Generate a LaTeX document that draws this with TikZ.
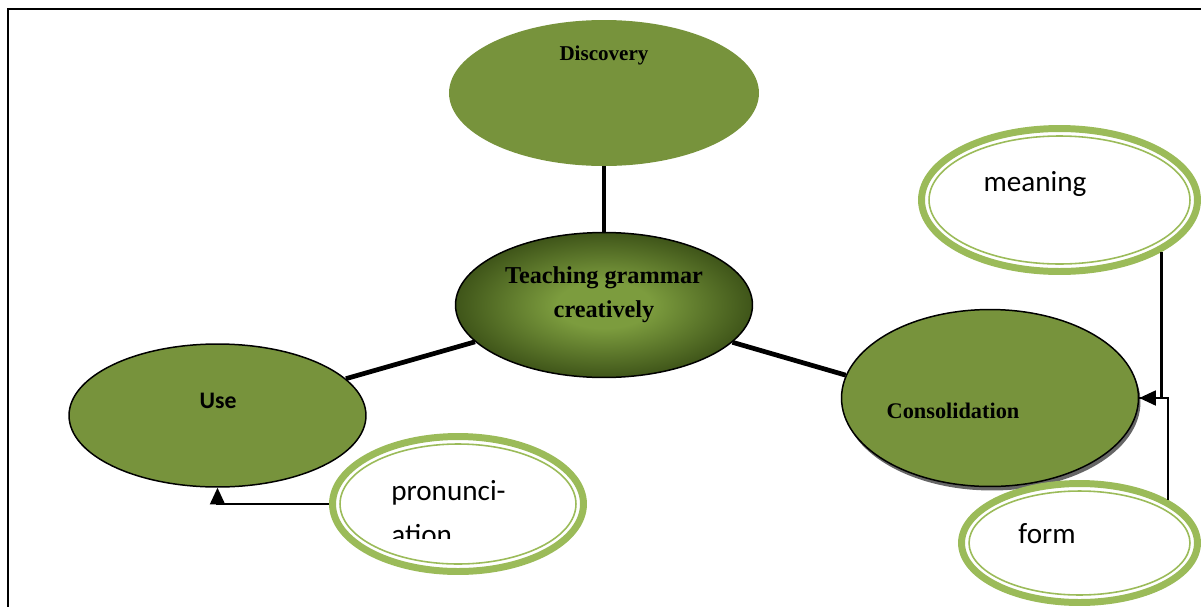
\documentclass[tikz,border=0pt]{standalone}
\usepackage{fontspec}
\setmainfont{Liberation Serif}
\newfontfamily\calib{Carlito}
\usetikzlibrary{shapes.geometric,arrows.meta}
\definecolor{ogreen}{HTML}{77933C}
\definecolor{lgreen}{HTML}{9BBB59}
\definecolor{dgreen}{HTML}{3F5519}
\definecolor{mgreen}{HTML}{7C9C3E}
\pgfdeclareradialshading{ctrshade}{\pgfpoint{0bp}{0bp}}{color(0bp)=(mgreen); color(8bp)=(mgreen); color(25bp)=(dgreen); color(50bp)=(dgreen)}
\begin{document}
\begin{tikzpicture}[x=0.02cm,y=-0.02cm,
  shp/.style={ellipse, inner sep=0pt, outer sep=auto},
  gell/.style={shp, fill=ogreen, draw=black, line width=0.85pt},
  ringO/.style={shp, fill=white, draw=lgreen, line width=3.97pt},
  ringI/.style={shp, draw=lgreen, line width=0.9pt},
  thickline/.style={line width=2.7pt},
  conn/.style={line width=1.2pt},
  tip/.style={-{Triangle[length=9.5pt,width=8.5pt]}},
  serifb/.style={inner sep=0pt, anchor=base, font=\bfseries\fontsize{#1}{#1}\selectfont},
  calt/.style={inner sep=0pt, anchor=base, font=\calib\fontsize{#1}{#1}\selectfont}]
\clip (0,0) rectangle (1201,606);
\draw[line width=1.2pt] (8,9) rectangle (1300,700);

% main nodes
\node[gell, draw=none, minimum width=6.2cm, minimum height=2.92cm] (disc) at (604,93) {};
\node[shp, draw=black, line width=0.85pt, shading=ctrshade, minimum width=5.94cm, minimum height=2.9cm] (ctr) at (604,305) {};
\node[gell, minimum width=5.94cm, minimum height=2.86cm] (use) at (217.5,415.5) {};
\node[shp, fill=black!60, minimum width=5.94cm, minimum height=3.54cm] (consS) at (992,402) {};
\node[gell, minimum width=5.94cm, minimum height=3.54cm] (cons) at (990,398) {};

% connectors
\draw[thickline] (disc) -- (ctr);
\draw[thickline] (ctr) -- (use.16);
\draw[thickline] (ctr) -- (cons.171);

% ringed nodes
\node[ringO, minimum width=5.52cm, minimum height=2.86cm] (m) at (1059.5,200) {};
\node[ringI, minimum width=5.22cm, minimum height=2.56cm] (mi) at (1059.5,200) {};
\node[ringO, minimum width=4.72cm, minimum height=2.38cm] (f) at (1079.5,543) {};
\node[ringI, minimum width=4.42cm, minimum height=2.08cm] (fi) at (1079.5,543) {};
\node[ringO, minimum width=5.02cm, minimum height=2.70cm] (p) at (458,504) {};
\node[ringI, minimum width=4.72cm, minimum height=2.40cm] (pi) at (458,504) {};

\draw[conn] (f.26) |- (cons.east);
\draw[conn, tip] (m.-27) |- (cons.east);
\draw[conn, tip] (p.west) -| (use.south);

% texts
\node[serifb=12] (discT) at (604,60) {Discovery};
\node[serifb=13.8] (ctrT1) at (604,283) {Teaching grammar};
\node[serifb=13.8] (ctrT2) at (604,317) {creatively};
\node[inner sep=0pt, anchor=base, font=\calib\bfseries\fontsize{13.5}{13.5}\selectfont] (useT) at (218,408) {Use};
\node[serifb=12.7] (consT) at (953,418) {Consolidation};
\node[calt=16.6] (mT) at (1035,191) {meaning};
\node[calt=16.6] (fT) at (1047,543) {form};
\begin{scope}
\clip (380,455) rectangle (570,538);
\node[calt=16.6, anchor=base west] (pT1) at (391,500) {pronunci-};
\node[calt=16.6, anchor=base west] (pT2) at (391,544) {ation};
\end{scope}
\end{tikzpicture}
\end{document}
